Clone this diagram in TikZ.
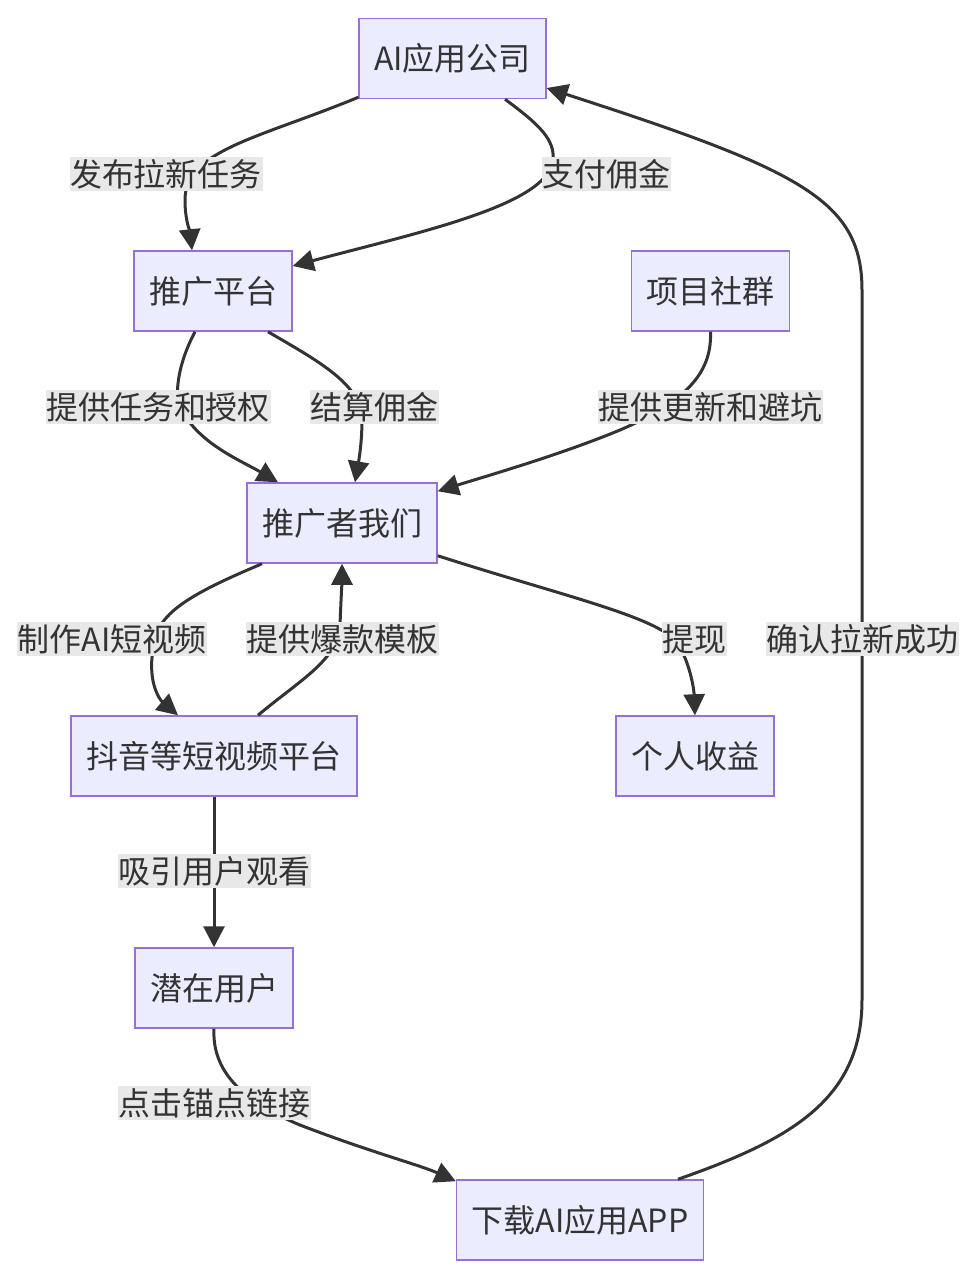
\documentclass[tikz,border=0pt]{standalone}
\usepackage{fontspec}
\setmainfont{Noto Sans CJK SC}
\usetikzlibrary{arrows.meta}
\definecolor{boxfill}{HTML}{ECECFF}
\definecolor{boxline}{HTML}{9370DB}
\definecolor{edgec}{HTML}{333333}
\definecolor{labelbg}{HTML}{E8E8E8}
\definecolor{textc}{HTML}{333333}
\tikzset{
  box/.style={draw=boxline, fill=boxfill, line width=1.5pt, minimum height=80pt, inner xsep=15pt, text=textc, font=\fontsize{32pt}{38pt}\selectfont},
  elabel/.style={fill=labelbg, inner xsep=0.5pt, inner ysep=2pt, text=textc, font=\fontsize{32pt}{38pt}\selectfont},
  edge/.style={draw=edgec, line width=3pt, -{Triangle[length=21pt,width=21pt]}}
}
\begin{document}
\begin{tikzpicture}[x=1pt,y=-1pt]
\fill[white] (0,0) rectangle (976,1278);
\useasboundingbox (0,0) rectangle (976,1278);
% nodes
\node[box] (A) at (452.5,58.5) {AI应用公司};
\node[box] (B) at (213,291) {推广平台};
\node[box] (C) at (710.5,291) {项目社群};
\node[box] (D) at (342,523) {推广者我们};
\node[box] (E) at (214,756) {抖音等短视频平台};
\node[box] (F) at (695,756) {个人收益};
\node[box] (G) at (214,988) {潜在用户};
\node[box] (H) at (580,1220) {下载AI应用APP};
% edges
\draw[edge] ([yshift=2pt]A.south west) .. controls (260,138) and (185,150) .. (185,200) .. controls (185,220) and (190,232) .. ([xshift=-21pt]B.north);
\draw[edge] ([xshift=52.5pt]A.south) .. controls (540,125) and (555,140) .. (553,160) .. controls (548,205) and (420,232) .. ([yshift=25pt]B.east);
\draw[edge] ([xshift=-18pt]B.south) .. controls (180,360) and (176,385) .. (178,400) .. controls (190,440) and (240,460) .. ([xshift=-64pt]D.north);
\draw[edge] ([xshift=55pt]B.south) .. controls (320,362) and (362,385) .. (362,420) .. controls (362,445) and (358,465) .. ([xshift=13pt]D.north);
\draw[edge] (C.south) .. controls (712,370) and (690,400) .. (620,430) .. controls (560,455) and (480,478) .. ([yshift=-9pt]D.north east);
\draw[edge] ([xshift=-80pt]D.south) .. controls (200,590) and (160,610) .. (155,640) .. controls (145,680) and (160,700) .. ([xshift=-36pt]E.north);
\draw[edge] ([xshift=44pt]E.north) .. controls (300,680) and (338,660) .. (340,625) .. controls (341,600) and (342,580) .. (D.south);
\draw[edge] ([yshift=8pt]D.south east) .. controls (560,595) and (650,615) .. (675,640) .. controls (690,660) and (694,690) .. (F.north);
\draw[edge] (E.south) -- (G.north);
\draw[edge] (G.south) .. controls (212,1070) and (240,1100) .. (300,1125) .. controls (370,1152) and (420,1165) .. ([yshift=-2pt]H.north west);
\draw[edge] ([xshift=98pt]H.north) .. controls (790,1140) and (862,1100) .. (862,1000) -- (862,290) .. controls (862,200) and (800,170) .. ([yshift=-29.5pt]A.east);
% labels
\node[elabel] (L1) at (166,174) {发布拉新任务};
\node[elabel] (L2) at (606,174) {支付佣金};
\node[elabel] (L3) at (158,407) {提供任务和授权};
\node[elabel] (L4) at (374,407) {结算佣金};
\node[elabel] (L5) at (710,407) {提供更新和避坑};
\node[elabel] (L6) at (112,639) {制作AI短视频};
\node[elabel] (L7) at (342,639) {提供爆款模板};
\node[elabel] (L8) at (694,639) {提现};
\node[elabel] (L9) at (214,871) {吸引用户观看};
\node[elabel] (L10) at (214,1103) {点击锚点链接};
\node[elabel] (L11) at (862,639) {确认拉新成功};
\end{tikzpicture}
\end{document}
